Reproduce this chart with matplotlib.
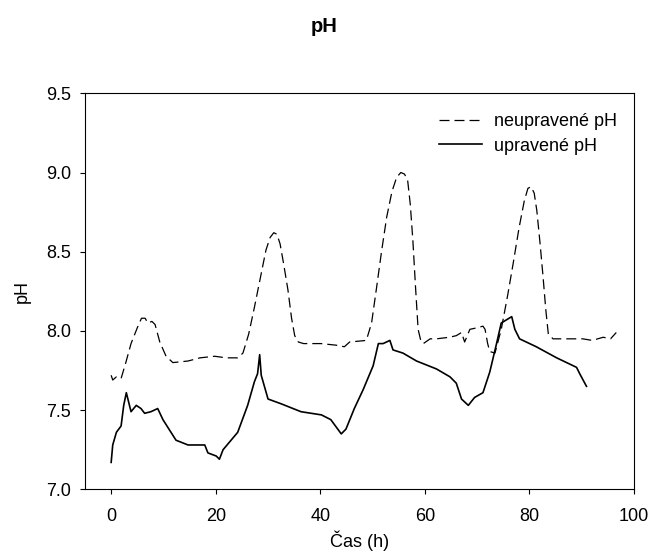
import numpy as np
import matplotlib
matplotlib.use('Agg')
import matplotlib.pyplot as plt

plt.rcParams['font.family'] = ['Liberation Sans', 'DejaVu Sans']

# neupravene pH (dashed)
t_neu = [0, 0.3, 1.0, 1.9, 2.8, 3.8, 5.0, 5.8, 6.5, 7.0, 7.8, 8.4, 9.3, 10.5,
         11.8, 14.7, 17.0, 19.8, 22.0, 24.2, 25.2, 26.3, 27.4, 28.5, 29.6,
         30.4, 31.1, 31.7, 32.3, 33.0, 33.8, 34.5, 35.1, 35.8, 36.8, 40.1,
         43.0, 44.6, 45.6, 48.8, 49.8, 50.7, 51.7, 52.7, 53.7, 54.6, 55.4,
         56.1, 56.7, 57.2, 57.7, 58.2, 58.7, 59.2, 59.7, 61.0, 62.2, 64.7,
         66.0, 67.0, 67.6, 68.6, 70.0, 71.1, 71.5, 72.0, 72.4, 73.4, 74.6,
         75.8, 76.9, 78.0, 79.0, 79.7, 80.3, 80.9, 81.4, 82.0, 82.6, 83.1,
         83.6, 84.5, 90.2, 92.0, 94.1, 95.5, 96.6]
ph_neu = [7.72, 7.69, 7.71, 7.70, 7.80, 7.92, 8.02, 8.08, 8.08, 8.05, 8.06, 8.04, 7.93, 7.84,
          7.80, 7.81, 7.83, 7.84, 7.83, 7.83, 7.86, 7.98, 8.15, 8.33, 8.51,
          8.59, 8.62, 8.61, 8.55, 8.42, 8.26, 8.08, 7.97, 7.93, 7.92, 7.92,
          7.91, 7.90, 7.93, 7.94, 8.05, 8.26, 8.50, 8.72, 8.88, 8.97, 9.00,
          8.99, 8.95, 8.80, 8.57, 8.28, 8.01, 7.94, 7.92, 7.95, 7.95, 7.96,
          7.97, 7.99, 7.93, 8.01, 8.02, 8.03, 8.01, 7.92, 7.87, 7.86, 8.01,
          8.22, 8.43, 8.65, 8.82, 8.90, 8.91, 8.87, 8.76, 8.56, 8.34, 8.14,
          7.98, 7.95, 7.95, 7.94, 7.96, 7.95, 7.99]

# upravene pH (solid)
t_upr = [0, 0.3, 1.0, 1.9, 2.4, 2.9, 3.8, 4.8, 5.7, 6.4, 7.6, 8.9, 9.9, 12.4,
         14.7, 17.9, 18.5, 20.1, 20.7, 21.4, 24.2, 26.1, 27.4, 28.0, 28.4,
         28.7, 30.0, 32.5, 36.3, 40.2, 42.0, 44.0, 44.9, 46.5, 48.2, 50.1,
         51.1, 52.0, 53.3, 53.9, 55.8, 58.4, 62.2, 64.8, 66.0, 67.0, 68.3,
         69.5, 71.1, 72.4, 73.7, 74.6, 75.6, 76.6, 77.2, 78.1, 81.3, 85.2,
         89.0, 89.6, 90.9]
ph_upr = [7.17, 7.28, 7.36, 7.40, 7.53, 7.61, 7.49, 7.53, 7.51, 7.48, 7.49, 7.51, 7.44, 7.31,
          7.28, 7.28, 7.23, 7.21, 7.19, 7.25, 7.36, 7.53, 7.68, 7.73, 7.85,
          7.72, 7.57, 7.54, 7.49, 7.47, 7.44, 7.35, 7.38, 7.51, 7.63, 7.78,
          7.92, 7.92, 7.94, 7.88, 7.86, 7.81, 7.76, 7.71, 7.67, 7.57, 7.53,
          7.58, 7.61, 7.74, 7.92, 8.05, 8.07, 8.09, 8.01, 7.95, 7.90, 7.83,
          7.77, 7.73, 7.65]

fig = plt.figure(figsize=(6.49, 5.57), dpi=100)
ax = fig.add_axes([0.131, 0.1215, 0.846, 0.711])

ax.plot(t_neu, ph_neu, color='black', lw=0.9, dashes=(8, 4), label='neupravené pH')
ax.plot(t_upr, ph_upr, color='black', lw=1.2, label='upravené pH')

ax.set_xlim(-5, 100)
ax.set_ylim(7.0, 9.5)
ax.set_xticks([0, 20, 40, 60, 80, 100])
ax.set_yticks([7.0, 7.5, 8.0, 8.5, 9.0, 9.5])
ax.set_yticklabels(['7.0', '7.5', '8.0', '8.5', '9.0', '9.5'])
ax.tick_params(direction='out', length=3.6, width=0.8, labelsize=13)
ax.tick_params(axis='x', pad=10)
ax.tick_params(axis='y', pad=6.5)
for s in ax.spines.values():
    s.set_linewidth(0.8)

ax.set_xlabel('Čas (h)', fontsize=13)
ax.set_ylabel('pH', fontsize=13)
ax.xaxis.set_label_coords(0.5, -0.103)
ax.yaxis.set_label_coords(-0.098, 0.5)
fig.text(0.5, 0.942, 'pH', ha='center', va='baseline', fontsize=14.5, fontweight='bold')

ax.legend(loc='upper right', frameon=False, fontsize=13, handlelength=2.4,
          handletextpad=0.66, labelspacing=0.4, borderpad=0, borderaxespad=0,
          bbox_to_anchor=(0.969, 0.949))

fig.savefig('out.png', dpi=100)
